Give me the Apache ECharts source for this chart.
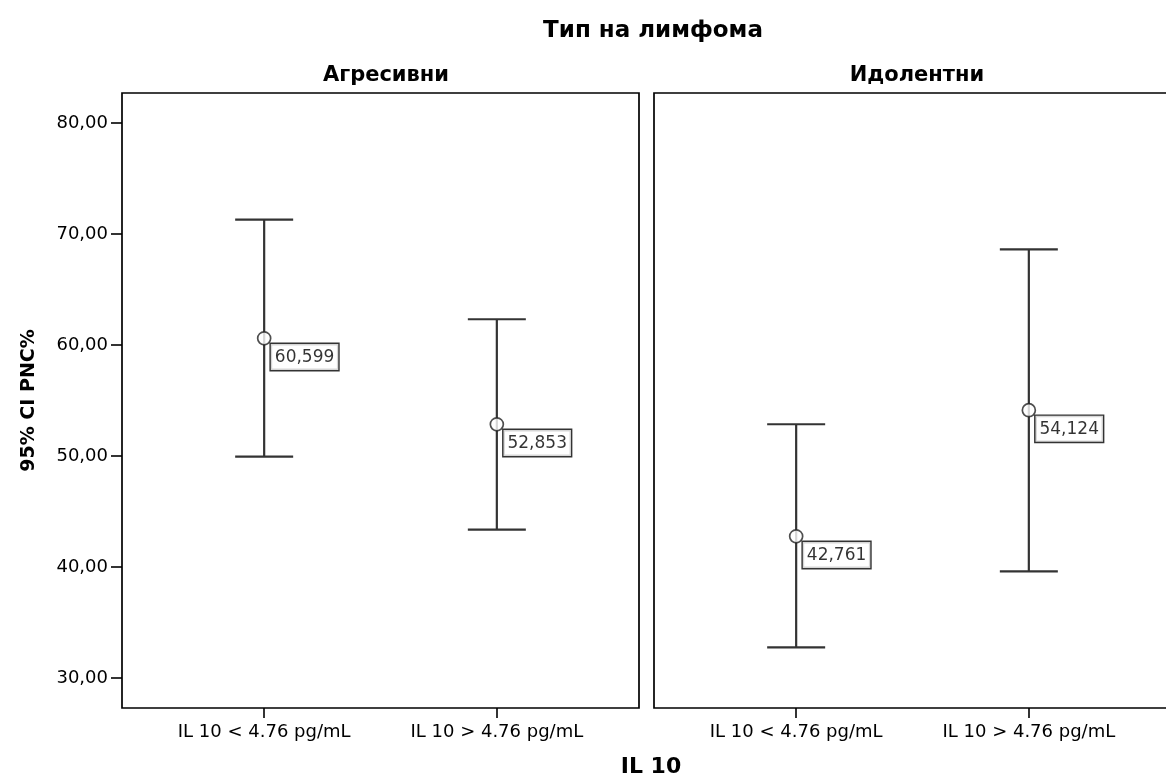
<!DOCTYPE html>
<html>
<head>
<meta charset="utf-8">
<script src="https://cdn.jsdelivr.net/npm/echarts@6/dist/echarts.min.js"></script>
<style>
  html, body { margin: 0; padding: 0; background: #fff; overflow: hidden; }
  #chart { width: 1174px; height: 778px; }
</style>
</head>
<body>
<div id="chart"></div>
<script>
// Groups on the x axis
const categories = ['IL 10 < 4.76 pg/mL', 'IL 10 > 4.76 pg/mL'];
// Lymphoma type panels
const panels = ['Агресивни', 'Идолентни'];
// Means and 95% CI bounds, per panel
const meanAgr = [60.599, 52.853];
const lowAgr = [49.95, 43.37];
const highAgr = [71.30, 62.32];
const meanIdo = [42.761, 54.124];
const lowIdo = [32.77, 39.60];
const highIdo = [52.86, 68.62];
// Y tick values
const yTicks = [30, 40, 50, 60, 70, 80];

const FONT = 'DejaVu Sans';
const fmtComma = (v, d) => v.toFixed(d).replace('.', ',');

function errorBarSeries(idx, lows, highs) {
  return {
    type: 'custom',
    xAxisIndex: idx,
    yAxisIndex: idx,
    z: 2,
    data: lows.map((l, i) => [i + 1, l, highs[i]]),
    renderItem: function (params, api) {
      const x = api.value(0);
      const lo = api.coord([x, api.value(1)]);
      const hi = api.coord([x, api.value(2)]);
      const half = 29;
      const style = { stroke: '#333', lineWidth: 2.2 };
      return {
        type: 'group',
        children: [
          { type: 'line', shape: { x1: lo[0], y1: lo[1], x2: hi[0], y2: hi[1] }, style: style },
          { type: 'line', shape: { x1: hi[0] - half, y1: hi[1], x2: hi[0] + half, y2: hi[1] }, style: style },
          { type: 'line', shape: { x1: lo[0] - half, y1: lo[1], x2: lo[0] + half, y2: lo[1] }, style: style }
        ]
      };
    }
  };
}

function meanSeries(idx, means) {
  return {
    type: 'scatter',
    xAxisIndex: idx,
    yAxisIndex: idx,
    z: 3,
    symbol: 'circle',
    symbolSize: 13,
    itemStyle: { color: '#fff', borderColor: '#222', borderWidth: 1.7 },
    data: means.map((m, i) => [i + 1, m]),
    label: {
      show: true,
      position: [14, 13],
      formatter: p => fmtComma(p.value[1], 3),
      fontFamily: FONT,
      fontSize: 17,
      color: '#000',
      backgroundColor: '#fff',
      borderColor: '#000',
      borderWidth: 1.4,
      padding: [5, 4, 4, 4]
    },
    emphasis: { disabled: true }
  };
}

function xAxis(idx) {
  return {
    type: 'value',
    gridIndex: idx,
    min: 0.389,
    max: 2.611,
    axisLine: { show: false },
    splitLine: { show: false },
    axisTick: { show: true, customValues: [1, 2], length: 10, lineStyle: { color: '#000', width: 1.6 } },
    axisLabel: {
      customValues: [1, 2],
      formatter: v => categories[Math.round(v) - 1],
      fontFamily: FONT, fontSize: 18, color: '#000', margin: 15
    }
  };
}

function yAxis(idx) {
  const showTicks = idx === 0;
  return {
    type: 'value',
    gridIndex: idx,
    min: 27.3,
    max: 82.7,
    axisLine: { show: false },
    splitLine: { show: false },
    axisTick: { show: showTicks, customValues: yTicks, length: 11, lineStyle: { color: '#000', width: 1.6 } },
    axisLabel: {
      show: showTicks,
      customValues: yTicks,
      formatter: v => fmtComma(v, 2),
      fontFamily: FONT, fontSize: 18, color: '#000', margin: 14
    },
    name: showTicks ? '95% CI PNC%' : '',
    nameLocation: 'middle',
    nameRotate: 90,
    nameGap: 83,
    nameTextStyle: { fontFamily: FONT, fontSize: 19, fontWeight: 'bold', color: '#000' }
  };
}

const chart = echarts.init(document.getElementById('chart'));
chart.setOption({
  animation: false,
  backgroundColor: '#fff',
  title: [
    { text: 'Тип на лимфома', left: 648, top: 15, textAlign: 'center',
      textStyle: { fontFamily: FONT, fontSize: 23, fontWeight: 'bold', color: '#000' } },
    { text: panels[0], left: 381, top: 60, textAlign: 'center',
      textStyle: { fontFamily: FONT, fontSize: 21, fontWeight: 'bold', color: '#000' } },
    { text: panels[1], left: 912, top: 60, textAlign: 'center',
      textStyle: { fontFamily: FONT, fontSize: 21, fontWeight: 'bold', color: '#000' } },
    { text: 'IL 10', left: 646, top: 751, textAlign: 'center',
      textStyle: { fontFamily: FONT, fontSize: 22, fontWeight: 'bold', color: '#000' } }
  ],
  grid: [
    { left: 122, top: 93, width: 517, height: 615, show: true, borderColor: '#000', borderWidth: 1.7, backgroundColor: 'transparent' },
    { left: 654, top: 93, width: 517, height: 615, show: true, borderColor: '#000', borderWidth: 1.7, backgroundColor: 'transparent' }
  ],
  xAxis: [xAxis(0), xAxis(1)],
  yAxis: [yAxis(0), yAxis(1)],
  series: [
    errorBarSeries(0, lowAgr, highAgr),
    meanSeries(0, meanAgr),
    errorBarSeries(1, lowIdo, highIdo),
    meanSeries(1, meanIdo)
  ]
});
</script>
</body>
</html>
